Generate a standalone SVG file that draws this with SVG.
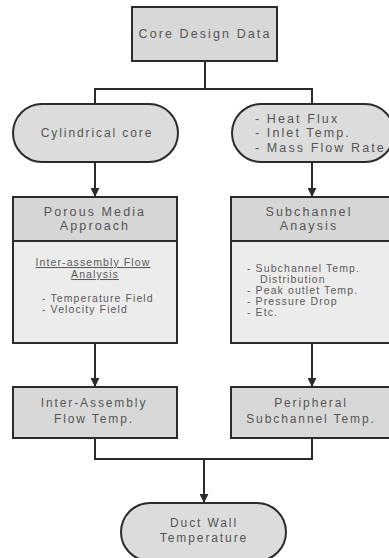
<svg xmlns="http://www.w3.org/2000/svg" width="389" height="558" viewBox="0 0 389 558">
<defs>
<style>
.box{fill:#d8d8d8;stroke:#2b2b2b;stroke-width:2}
.hdr{fill:#d6d6d6;stroke:#2b2b2b;stroke-width:2}
.body{fill:#ececec;stroke:#2b2b2b;stroke-width:2}
.pill{fill:#dcdcdc;stroke:#2b2b2b;stroke-width:2}
.t{font-family:"Liberation Sans",Arial,sans-serif;font-size:12px;letter-spacing:1.9px;fill:#555}
.w{font-size:12.5px;letter-spacing:2.1px}
.s{font-family:"Liberation Sans",Arial,sans-serif;font-size:10.5px;letter-spacing:1.1px;fill:#5a5a5a}
.c{text-anchor:middle}
.ln{fill:none;stroke:#2b2b2b;stroke-width:2}
</style>
<marker id="ah" viewBox="0 0 10 10" refX="9" refY="5" markerWidth="9" markerHeight="9" markerUnits="userSpaceOnUse" orient="auto">
<path d="M0,0 L10,5 L0,10 Z" fill="#2b2b2b"/>
</marker>
</defs>
<rect width="389" height="558" fill="#ffffff"/>

<g id="connectors">
<polyline class="ln" points="205,61 205,89"/>
<polyline class="ln" points="95,104 95,89 312,89 312,104"/>
<line class="ln" x1="95" y1="162" x2="95" y2="196" marker-end="url(#ah)"/>
<line class="ln" x1="312" y1="162" x2="312" y2="196" marker-end="url(#ah)"/>
<line class="ln" x1="95" y1="343" x2="95" y2="386" marker-end="url(#ah)"/>
<line class="ln" x1="312" y1="343" x2="312" y2="386" marker-end="url(#ah)"/>
<polyline class="ln" points="95,438 95,459 312,459 312,438"/>
<line class="ln" x1="204" y1="459" x2="204" y2="502" marker-end="url(#ah)"/>
</g>

<g id="core-design-data">
<rect class="box" x="132" y="7" width="145" height="54"/>
<text class="t w c" x="205" y="38">Core Design Data</text>
</g>

<g id="cylindrical-core">
<rect class="pill" x="13" y="104" width="165" height="58" rx="29" ry="29"/>
<text class="t c" x="97" y="137">Cylindrical core</text>
</g>

<g id="inputs">
<rect class="pill" x="232" y="104" width="162" height="58" rx="29" ry="29"/>
<text class="t w" x="255" y="123">- Heat Flux</text>
<text class="t w" x="255" y="137">- Inlet Temp.</text>
<text class="t w" x="255" y="152">- Mass Flow Rate</text>
</g>

<g id="porous-media">
<rect class="body" x="13" y="197" width="164" height="146"/>
<rect class="hdr" x="13" y="197" width="164" height="44"/>
<text class="t w c" x="95" y="216">Porous Media</text>
<text class="t w c" x="95" y="230">Approach</text>
<text class="s c" x="93" y="266" text-decoration="underline">Inter-assembly Flow </text>
<text class="s c" x="95" y="278" text-decoration="underline">Analysis</text>
<text class="s" x="42" y="302">- Temperature Field</text>
<text class="s" x="42" y="313">- Velocity Field</text>
</g>

<g id="subchannel">
<rect class="body" x="231" y="197" width="163" height="146"/>
<rect class="hdr" x="231" y="197" width="163" height="44"/>
<text class="t w c" x="309" y="216">Subchannel</text>
<text class="t w c" x="309" y="230">Anaysis</text>
<text class="s" x="247" y="272">- Subchannel Temp.</text>
<text class="s" x="260" y="283">Distribution</text>
<text class="s" x="247" y="294">- Peak outlet Temp.</text>
<text class="s" x="247" y="305">- Pressure Drop</text>
<text class="s" x="247" y="316">- Etc.</text>
</g>

<g id="inter-assembly-temp">
<rect class="box" x="13" y="387" width="164" height="51"/>
<text class="t c" x="94" y="407">Inter-Assembly</text>
<text class="t c" x="94" y="423">Flow Temp.</text>
</g>

<g id="peripheral-temp">
<rect class="box" x="231" y="387" width="163" height="51"/>
<text class="t c" x="311" y="407">Peripheral</text>
<text class="t c" x="311" y="423">Subchannel Temp.</text>
</g>

<g id="duct-wall-temp">
<rect class="pill" x="121" y="503" width="165" height="58" rx="29" ry="29"/>
<text class="t c" x="204" y="527">Duct Wall</text>
<text class="t c" x="204" y="542">Temperature</text>
</g>
</svg>
